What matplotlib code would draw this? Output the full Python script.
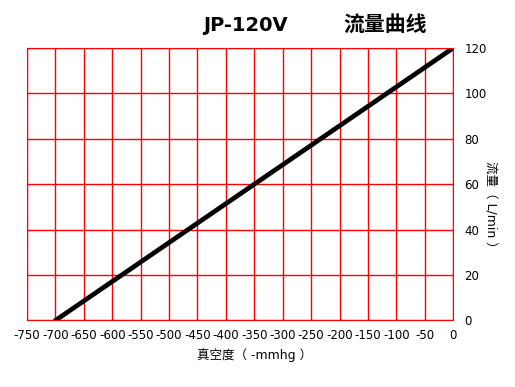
import matplotlib
matplotlib.use("Agg")
import matplotlib.pyplot as plt

plt.rcParams['font.family'] = ['DejaVu Sans', 'Noto Sans CJK SC']
plt.rcParams['axes.unicode_minus'] = False

vacuum = [-700, 0]
flow = [0, 120]
x_ticks = list(range(-750, 1, 50))
y_ticks = list(range(0, 121, 20))

fig = plt.figure(figsize=(5.15, 3.87), dpi=100)
ax = fig.add_axes([0.0524, 0.172, 0.8276, 0.704])

ax.plot(vacuum, flow, color='black', lw=3.4, solid_capstyle='round')

ax.set_xlim(-750, 0)
ax.set_ylim(0, 120)
ax.set_xticks(x_ticks)
ax.set_yticks(y_ticks)
ax.grid(True, color='red', lw=1)
ax.set_axisbelow(True)
for s in ax.spines.values():
    s.set_color('red')
ax.yaxis.tick_right()
ax.tick_params(length=0, labelsize=8.5, pad=6)
ax.tick_params(axis='y', pad=8)

fig.text(0.495, 0.083, '真空度（ -mmhg ）', fontsize=9, ha='center', va='center')
fig.text(0.952, 0.465, '流量（ L/min ）', rotation=270, fontsize=9,
         ha='center', va='center')

fig.text(0.476, 0.935, 'JP-120V', fontsize=14, fontweight='bold', ha='center', va='center')
fig.text(0.748, 0.935, '流量曲线', fontsize=15, fontweight='bold', ha='center', va='center')

fig.savefig('out.png', dpi=100)
